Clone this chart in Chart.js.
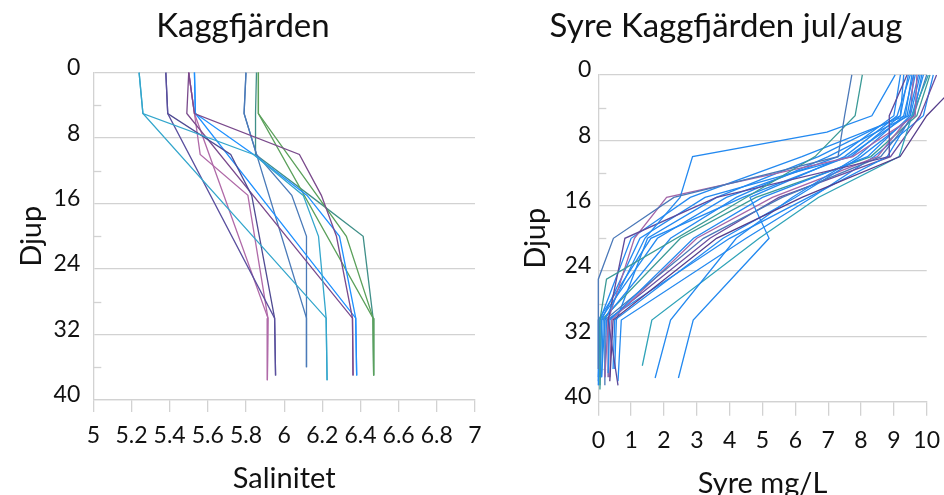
<!DOCTYPE html>
<html>
<head>
<meta charset="utf-8">
<script src="https://cdn.jsdelivr.net/npm/chart.js@4.4.0/dist/chart.umd.min.js"></script>
<style>
html, body { margin: 0; padding: 0; background: #fff; overflow: hidden; }
#left { position: absolute; left: 0; top: 0; width: 486px; height: 495px; }
#right { position: absolute; left: 508px; top: 0; width: 436px; height: 495px; }
</style>
</head>
<body>
<div id="left"><canvas id="saltChart"></canvas></div>
<div id="right"><canvas id="oxyChart"></canvas></div>
<script>
// Salinitet per djup, Kaggfjärden. Last value in each row is the bottom sample (depth in saltBottom)
const saltDepths = [0, 5, 10, 15, 20, 30];
const saltBottom = [37.6, 37.6, 37, 37, 37, 37, 37, 37, 37.6, 37.6, 36, 36, 37, 37, 37];
const saltValues = [
	[5.24, 5.26, 5.84, 6.10, 6.18, 6.22, 6.225],
	[5.24, 5.26, null, null, null, 6.22, 6.225],
	[5.38, 5.39, null, null, null, 5.95, 5.955],
	[5.38, 5.39, 5.72, 5.83, 5.87, 5.95, 5.955],
	[5.50, 5.53, 6.08, 6.195, 6.274, 6.358, 6.361],
	[5.50, 5.49, null, null, null, 6.358, 6.361],
	[5.53, 5.535, 5.84, 6.12, 6.29, 6.375, 6.38],
	[5.53, 5.535, null, null, null, 6.375, 6.38],
	[5.50, 5.53, 5.56, 5.81, null, 5.915, 5.912],
	[5.50, 5.53, null, null, null, 5.915, 5.912],
	[5.80, 5.79, 5.855, 6.04, 6.117, 6.117, 6.117],
	[5.80, 5.79, null, null, null, 6.117, 6.117],
	[5.865, 5.865, null, null, 6.326, 6.466, 6.469],
	[5.865, 5.865, null, null, null, 6.466, 6.469],
	[5.855, 5.85, 5.85, 6.134, 6.414, 6.466, 6.469]
];
const saltColors = ['#33a6cc', '#33a6cc', '#5a4f9e', '#4f4a92', '#7a4a8c', '#7a4a8c', '#1e90ff', '#1e90ff',
	'#b06aa8', '#b06aa8', '#4a7ab8', '#4a7ab8', '#5ba05b', '#5ba05b', '#3f8f88'];

// Syre mg/L per djup, jul/aug
const oxyDepths = [0, 5, 7, 10, 15, 20, 25, 30];
const oxyBottom = [36, 38, 37, 38, 37, 37.5, 37.1, 37.1, 35.6, 37, 38, 36.5, 37, 38, 36, 37, 37.5, 38.5, 37, 37, 37, 36, 37.5];
const oxyValues = [
	[7.72, 7.5, null, 7.3, 2.3, 0.46, 0.0, 0.0, 0.0],
	[8.04, 7.82, null, 6.6, 4.5, null, 0.25, 0.05, 0.05],
	[9.04, 8.33, 6.96, 2.87, 2.49, 1.42, null, 0.2, 0.1],
	[9.4, 8.86, null, 8.86, 3.6, 0.81, null, 0.3, 0.6],
	[9.7, 9.65, null, 7.75, 2.08, 1.1, null, 0.3, 0.2],
	[11.2, 10.0, null, 9.19, 6.2, 3.6, null, 0.45, 0.35],
	[9.5, 9.1, null, 7.5, 4.62, 5.2, null, 2.89, 2.44],
	[9.6, 9.3, null, 7.9, 5.9, 4.2, null, 2.2, 1.73],
	[10.05, 9.55, null, 9.16, 6.7, 4.9, null, 1.63, 1.34],
	[9.44, 9.2, null, 7.7, 3.25, 1.27, null, 0.1, 0.05],
	[9.55, 9.35, null, 6.2, 2.8, 1.0, null, 0.05, 0.0],
	[9.8, 9.5, null, 8.2, 5.0, 2.9, null, 0.35, 0.3],
	[9.75, 9.45, null, 7.0, 4.2, 2.2, null, 0.15, 0.1],
	[10.0, 9.6, null, 8.6, 5.6, 3.2, null, 0.2, 0.2],
	[9.85, 9.6, null, 8.0, 6.0, 3.8, null, 0.5, 0.45],
	[9.6, 9.5, null, 8.5, 5.3, 3.0, null, 0.4, 0.35],
	[9.2, 9.0, null, 7.3, 3.9, 1.8, null, 0.05, 0.0],
	[10.1, 9.7, null, 8.3, 4.8, 2.5, null, 0.1, 0.05],
	[9.9, 9.55, null, 8.8, 6.4, 4.0, null, 0.25, 0.2],
	[10.3, 9.8, null, 8.9, 5.5, 3.4, null, 0.3, 0.3],
	[9.65, 9.4, null, 7.6, 4.4, 1.6, null, 0.0, 0.0],
	[9.3, 9.2, null, 6.7, 3.6, 1.5, null, 0.55, 0.5],
	[10.2, 9.9, null, 8.4, 6.5, 4.5, null, 0.7, 0.6]
];
const oxyColors = ['#4a78b8', '#3a9a96', '#2389f0', '#5e4a9c', '#a466a8', '#553d8a', '#2389f0', '#2389f0',
	'#2fa3b8', '#2389f0', '#2389f0', '#2389f0', '#2389f0', '#4a78b8', '#2389f0', '#a466a8', '#2389f0',
	'#3a9a96', '#2389f0', '#6b4ea0', '#2389f0', '#2389f0', '#2389f0'];

const gridColor = '#d2d2d2';
const textColor = '#111';

function makeSets(values, depths, bottom, colors) {
	return values.map((row, i) => ({
		data: row.map((v, j) => ({ x: v, y: j < depths.length ? depths[j] : bottom[i] }))
			.filter(p => p.x !== null),
		borderColor: colors[i],
		borderWidth: 1.3,
		showLine: true,
		pointRadius: 0,
		fill: false,
		tension: 0,
		clip: false
	}));
}

// small inner tick marks on the depth axis (4, 12, 20 ...)
const minorTicks = {
	id: 'minorTicks',
	beforeDatasetsDraw(chart) {
		const y = chart.scales.y, ctx = chart.ctx, left = chart.chartArea.left;
		ctx.save();
		ctx.strokeStyle = gridColor;
		ctx.lineWidth = 1.3;
		for (let d = 4; d < 40; d += 8) {
			const py = Math.round(y.getPixelForValue(d)) + 0.5;
			ctx.beginPath();
			ctx.moveTo(left, py);
			ctx.lineTo(left + 8, py);
			ctx.stroke();
		}
		ctx.restore();
	}
};

function makeOptions(o) {
	return {
		animation: false,
		responsive: true,
		maintainAspectRatio: false,
		layout: { padding: { left: o.padLeft, right: o.padRight } },
		plugins: {
			legend: { display: false },
			tooltip: { enabled: false },
			title: {
				display: true,
				text: o.title,
				color: textColor,
				font: { family: 'Lato', size: 33, weight: 'normal' },
				padding: { top: 7, bottom: o.titleBottom }
			}
		},
		scales: {
			x: {
				type: 'linear',
				min: o.xMin,
				max: o.xMax,
				ticks: {
					stepSize: o.xStep,
					autoSkip: false,
					maxRotation: 0,
					padding: o.xTickPad,
					color: textColor,
					font: { family: 'Lato', size: 23 },
					callback: v => String(Number(v.toFixed(1)))
				},
				grid: { drawOnChartArea: false, drawTicks: true, tickLength: o.tickLen, color: gridColor, lineWidth: 1.3 },
				border: { display: true, color: gridColor, width: 1.3 },
				title: {
					display: true,
					text: o.xTitle,
					color: textColor,
					font: { family: 'Lato', size: 29 },
					padding: { top: 0, bottom: o.xTitlePad }
				},
				afterFit: s => { s.height = o.xHeight; s.paddingLeft = 0; s.paddingRight = 0; }
			},
			y: {
				type: 'linear',
				reverse: true,
				min: 0,
				max: 40,
				ticks: {
					stepSize: 8,
					padding: o.yTickPad,
					labelOffset: -5,
					color: textColor,
					font: { family: 'Lato', size: 23 }
				},
				grid: { color: gridColor, lineWidth: 1.3, drawTicks: false },
				border: { display: true, color: gridColor, width: 1.3 },
				title: {
					display: true,
					text: 'Djup',
					color: textColor,
					font: { family: 'Lato', size: 29 },
					padding: { top: o.yTitlePad, bottom: 0 }
				},
				afterFit: s => { s.width = o.yWidth; s.paddingTop = 0; s.paddingBottom = 0; }
			}
		}
	};
}

new Chart(document.getElementById('saltChart'), {
	type: 'scatter',
	data: { datasets: makeSets(saltValues, saltDepths, saltBottom, saltColors) },
	options: makeOptions({
		title: 'Kaggfjärden', titleBottom: 26, padLeft: 11, padRight: 11,
		xMin: 5, xMax: 7, xStep: 0.2, xTitle: 'Salinitet',
		xTickPad: 9.7, tickLen: 12, xTitlePad: -1.4, xHeight: 95,
		yTickPad: 13, yTitlePad: 3.6, yWidth: 82.3
	}),
	plugins: [minorTicks]
});

new Chart(document.getElementById('oxyChart'), {
	type: 'scatter',
	data: { datasets: makeSets(oxyValues, oxyDepths, oxyBottom, oxyColors) },
	options: makeOptions({
		title: 'Syre Kaggfjärden jul/aug', titleBottom: 28.3, padLeft: 17.3, padRight: 17.3,
		xMin: 0, xMax: 10, xStep: 1, xTitle: 'Syre mg/L',
		xTickPad: 11.5, tickLen: 14, xTitlePad: -6.4, xHeight: 93.3,
		yTickPad: 7, yTitlePad: -6.7, yWidth: 73
	}),
	plugins: [minorTicks]
});
</script>
</body>
</html>
